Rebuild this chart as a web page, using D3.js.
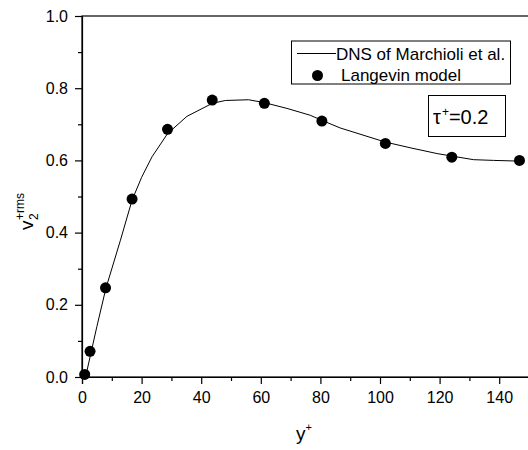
<!DOCTYPE html>
<meta charset="utf-8">
<script src="https://d3js.org/d3.v7.min.js"></script>
<style>
  body { margin: 0; background: #fff; }
  svg { display: block; font-family: "Liberation Sans", Arial, sans-serif; }
</style>
<body>
<div id="chart"></div>
<script>

// DNS curve
var dnsX = [1.2, 5, 8, 12.9, 16.8, 20, 23.5, 28.7, 35.2, 43.7, 48.1, 55.9, 61.2, 68.8, 76.6, 80.5, 86.6, 101.7, 110.1, 119.1, 124.1, 131.4, 138.1, 146.8];
var dnsY = [0.0, 0.14, 0.245, 0.379, 0.49, 0.553, 0.61, 0.674, 0.722, 0.758, 0.766, 0.768, 0.760, 0.744, 0.725, 0.711, 0.69, 0.651, 0.635, 0.619, 0.612, 0.602, 0.600, 0.598];

// Langevin model points
var lgvX = [0.9, 2.7, 7.9, 16.8, 28.7, 43.7, 61.2, 80.5, 101.8, 124.1, 146.8];
var lgvY = [0.007, 0.071, 0.247, 0.493, 0.686, 0.767, 0.758, 0.709, 0.647, 0.609, 0.600];

var xTicks = [0, 20, 40, 60, 80, 100, 120, 140];
var xMinor = [10, 30, 50, 70, 90, 110, 130];
var yTicks = [0, 0.2, 0.4, 0.6, 0.8, 1.0];
var yMinor = [0.1, 0.3, 0.5, 0.7, 0.9];

var W = 528, H = 450;
var pL = 82, pR = 529, pT = 16, pB = 377;

var svg = d3.select("#chart").append("svg")
  .attr("width", W)
  .attr("height", H);

var x = d3.scaleLinear().domain([0, 150]).range([pL, pR]);
var y = d3.scaleLinear().domain([0, 1]).range([pB, pT]);

// frame
svg.append("rect")
  .attr("x", pL).attr("y", pT)
  .attr("width", pR - pL).attr("height", pB - pT)
  .attr("fill", "none").attr("stroke", "#000").attr("stroke-width", 1.2);

// minor ticks
svg.append("g")
  .attr("transform", "translate(0," + pB + ")")
  .call(d3.axisBottom(x).tickValues(xMinor).tickSize(4).tickFormat(""))
  .call(function(g) { g.select(".domain").remove(); });
svg.append("g")
  .attr("transform", "translate(" + pL + ",0)")
  .call(d3.axisLeft(y).tickValues(yMinor).tickSize(4).tickFormat(""))
  .call(function(g) { g.select(".domain").remove(); });

// major ticks
svg.append("g")
  .attr("transform", "translate(0," + pB + ")")
  .call(d3.axisBottom(x).tickValues(xTicks).tickSize(7).tickPadding(8).tickFormat(d3.format("d")));
svg.append("g")
  .attr("transform", "translate(" + pL + ",0)")
  .call(d3.axisLeft(y).tickValues(yTicks).tickSize(7).tickPadding(7).tickFormat(d3.format(".1f")));

svg.selectAll(".tick line").attr("stroke", "#000").attr("stroke-width", 1.2);
svg.selectAll(".domain").attr("stroke", "#000").attr("stroke-width", 1.2);
svg.selectAll(".tick text")
  .attr("font-family", "Liberation Sans, Arial, sans-serif")
  .attr("font-size", 16)
  .attr("fill", "#000");

// DNS line
var pts = dnsX.map(function(d, i) { return [d, dnsY[i]]; });
svg.append("path")
  .datum(pts)
  .attr("fill", "none")
  .attr("stroke", "#000")
  .attr("stroke-width", 1)
  .attr("d", d3.line().x(function(d) { return x(d[0]); }).y(function(d) { return y(d[1]); }));

// Langevin dots
svg.append("g")
  .selectAll("circle")
  .data(lgvX)
  .enter()
  .append("circle")
    .attr("cx", function(d) { return x(d); })
    .attr("cy", function(d, i) { return y(lgvY[i]); })
    .attr("r", 5.5)
    .attr("fill", "#000");

// legend
var leg = svg.append("g");
leg.append("rect")
  .attr("x", 291.5).attr("y", 41)
  .attr("width", 219).attr("height", 43)
  .attr("fill", "#fff").attr("stroke", "#000").attr("stroke-width", 1);
leg.append("line")
  .attr("x1", 297).attr("x2", 336).attr("y1", 53.5).attr("y2", 53.5)
  .attr("stroke", "#000").attr("stroke-width", 1);
leg.append("text")
  .attr("x", 336).attr("y", 59.5)
  .attr("font-size", 17)
  .text("DNS of Marchioli et al.");
leg.append("circle")
  .attr("cx", 317.5).attr("cy", 75.5).attr("r", 5.5).attr("fill", "#000");
leg.append("text")
  .attr("x", 341).attr("y", 81)
  .attr("font-size", 17)
  .text("Langevin model");

// tau box
svg.append("rect")
  .attr("x", 428.5).attr("y", 95.5)
  .attr("width", 77).attr("height", 41)
  .attr("fill", "#fff").attr("stroke", "#000").attr("stroke-width", 1);
var tau = svg.append("text")
  .attr("x", 433).attr("y", 124)
  .attr("font-size", 20);
tau.append("tspan").text("\u03c4");
tau.append("tspan").attr("font-size", 12).attr("dy", -8).attr("dx", 1).text("+");
tau.append("tspan").attr("dy", 8).text("=0.2");

// x label
var xl = svg.append("text")
  .attr("x", 296).attr("y", 440)
  .attr("font-size", 19);
xl.append("tspan").text("y");
xl.append("tspan").attr("font-size", 11).attr("dy", -9).text("+");

// y label
var yl = svg.append("g").attr("transform", "translate(33,210) rotate(-90)");
var vText = yl.append("text").attr("x", -20).attr("y", 0).attr("font-size", 19).text("v");
var vw = vText.node().getComputedTextLength();
yl.append("text").attr("x", -20 + vw + 0.5).attr("y", 5).attr("font-size", 12).text("2");
yl.append("text").attr("x", -20 + vw + 0.5).attr("y", -9).attr("font-size", 12).text("+rms");

</script>
</body>
